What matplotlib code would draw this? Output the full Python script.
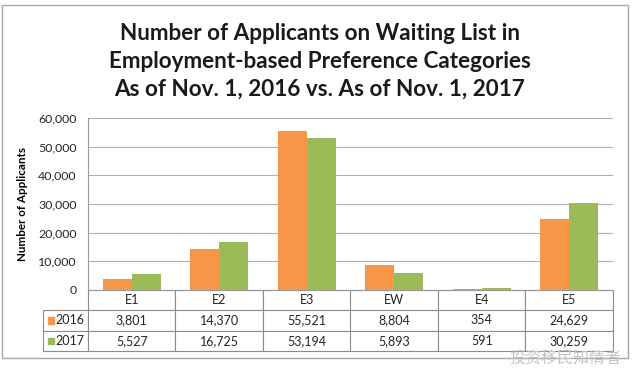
import matplotlib
matplotlib.use("Agg")
import matplotlib.pyplot as plt
from matplotlib.patches import Rectangle

plt.rcParams['font.family'] = ['Lato', 'DejaVu Sans']

categories = ['E1', 'E2', 'E3', 'EW', 'E4', 'E5']
series_names = ['2016', '2017']
applicants_2016 = [3801, 14370, 55521, 8804, 354, 24629]
applicants_2017 = [5527, 16725, 53194, 5893, 591, 30259]
colors = ['#F79646', '#9BBB59']
yticks = [0, 10000, 20000, 30000, 40000, 50000, 60000]

W, H = 640, 387
fig = plt.figure(figsize=(6.4, 3.87), dpi=100)
ax = fig.add_axes([88 / W, 1 - 290 / H, 525 / W, 172 / H])

x = list(range(len(categories)))
bw = 0.33
ax.bar([i - bw / 2 for i in x], applicants_2016, bw, color=colors[0], zorder=3)
ax.bar([i + bw / 2 for i in x], applicants_2017, bw, color=colors[1], zorder=3)

ax.set_xlim(-0.5, len(categories) - 0.5)
ax.set_ylim(0, 60000)
ax.set_yticks(yticks)
ax.set_yticklabels([f'{v:,}' for v in yticks], fontsize=8.9, color='#262626')
ax.tick_params(axis='y', length=0, pad=8)
ax.set_xticks([])
ax.grid(axis='y', color='#b0b0b0', linewidth=0.8, zorder=0)
for s in ['top', 'right']:
    ax.spines[s].set_visible(False)
ax.spines['left'].set_color('#9a9a9a')
ax.spines['bottom'].set_color('#9a9a9a')
ax.set_ylabel('Number of Applicants', fontsize=8.4, fontweight='bold')
ax.yaxis.set_label_coords(-0.114, 0.5)

# data table under the plot
cell_text = [[''] + categories,
             [series_names[0]] + [f'{v:,}' for v in applicants_2016],
             [series_names[1]] + [f'{v:,}' for v in applicants_2017]]
lab_w = 45 / 525
tab = ax.table(cellText=cell_text, cellLoc='center',
               colWidths=[lab_w] + [1 / 6] * 6,
               bbox=[-lab_w, -61 / 172, 1 + lab_w, 61 / 172])
tab.auto_set_font_size(False)
for (r, c), cell in tab.get_celld().items():
    cell.set_edgecolor('#8c8c8c')
    cell.set_linewidth(0.8)
    cell.get_text().set_fontsize(9)
    cell.get_text().set_color('#262626')
    if r == 0 and c == 0:
        cell.visible_edges = ''
    if c == 0 and r > 0:
        cell.get_text().set_ha('right')
        cell._loc = 'right'
        cell.PAD = 0.07
        # colour swatch
        yc = -(61 / 172) * (r + 0.5) / 3
        ax.add_patch(Rectangle((-40 / 525, yc - 3.3 / 172), 6 / 525, 6.6 / 172,
                               transform=ax.transAxes, color=colors[r - 1],
                               clip_on=False, zorder=5))

# title
title_lines = ['Number of Applicants on Waiting List in',
               'Employment-based Preference Categories',
               'As of Nov. 1, 2016 vs. As of Nov. 1, 2017']
for k, line in enumerate(title_lines):
    fig.text(0.5, 1 - (33 + 28 * k) / H, line, ha='center', va='center',
             fontsize=16.2, fontweight='bold', color='#1a1a1a')

# outer chart border
fig.patches.append(Rectangle((2 / W, 1 - 358 / H), 626 / W, 353 / H,
                             transform=fig.transFigure, fill=False,
                             edgecolor='#a6a6a6', linewidth=1))

# watermark
fig.text(565 / W, 1 - 358 / H, '投资移民知情者', ha='center', va='center',
         fontsize=11.5, color='#c4c4c4', family=['Noto Sans CJK SC', 'DejaVu Sans'])

fig.savefig('out.png', dpi=100)
